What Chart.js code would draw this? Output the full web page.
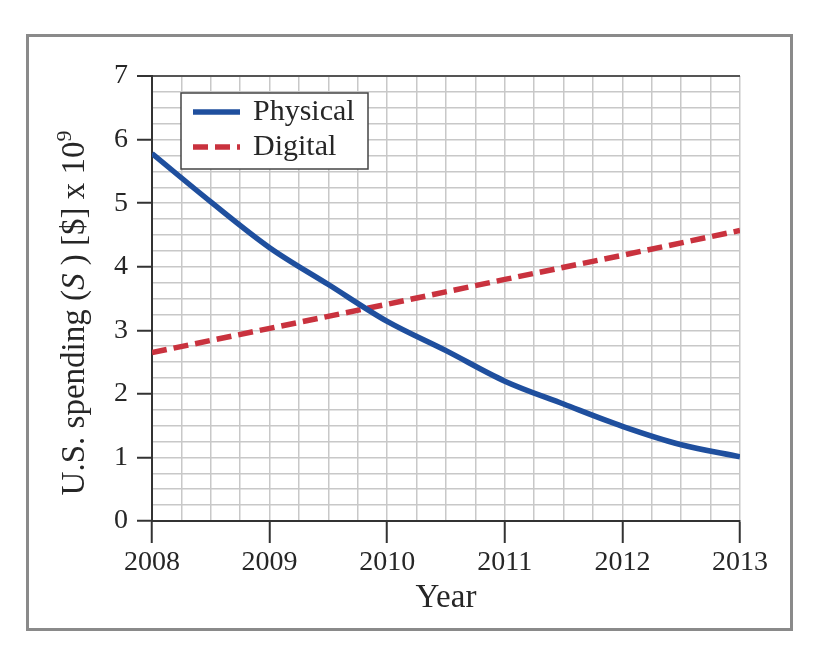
<!DOCTYPE html>
<html>
<head>
<meta charset="utf-8">
<script src="https://cdn.jsdelivr.net/npm/chart.js@4"></script>
<style>
  html, body { margin: 0; padding: 0; background: #fff; }
  #wrap { position: relative; width: 824px; height: 660px; }
  #frame { position: absolute; left: 26px; top: 34px; width: 761px; height: 591px; border: 3px solid #8a8a8a; pointer-events: none; }
  canvas { position: absolute; left: 0; top: 0; }
</style>
</head>
<body>
<div id="wrap">
  <canvas id="chart" width="824" height="660"></canvas>
  <div id="frame"></div>
</div>
<script>
// values (spending in billions of $)
const physicalYears = [2008, 2008.5, 2009, 2009.5, 2010, 2010.5, 2011, 2011.5, 2012, 2012.5, 2013];
const physical = [5.78, 5.02, 4.3, 3.72, 3.14, 2.68, 2.2, 1.84, 1.49, 1.2, 1.01];
const digitalYears = [2008, 2009, 2010, 2011, 2012, 2013];
const digital = [2.65, 3.03, 3.41, 3.8, 4.18, 4.57];
const seriesNames = ['Physical', 'Digital'];
const yearTicks = [2008, 2009, 2010, 2011, 2012, 2013];
const spendTicks = [0, 1, 2, 3, 4, 5, 6, 7];

const FONT = "'Liberation Serif', 'Times New Roman', serif";
const BLUE = '#1f4f9e';
const RED = '#c9323e';
const TEXT = '#262626';

const isMajor = (v, list) => list.includes(Math.round(v * 100) / 100);

// boxed legend in the upper left of the plot
const legendBox = {
  id: 'legendBox',
  afterDraw(chart) {
    const { ctx, chartArea } = chart;
    const x = chartArea.left + 29, y = chartArea.top + 17, w = 187, h = 76;
    ctx.save();
    ctx.fillStyle = '#fff';
    ctx.fillRect(x, y, w, h);
    ctx.strokeStyle = '#444';
    ctx.lineWidth = 1.5;
    ctx.strokeRect(x, y, w, h);
    chart.data.datasets.forEach((ds, i) => {
      const cy = y + 19 + i * 35;
      ctx.beginPath();
      ctx.setLineDash(ds.borderDash || []);
      ctx.strokeStyle = ds.borderColor;
      ctx.lineWidth = ds.borderWidth;
      ctx.moveTo(x + 12, cy);
      ctx.lineTo(x + 59, cy);
      ctx.stroke();
      ctx.setLineDash([]);
      ctx.fillStyle = TEXT;
      ctx.font = '30px ' + FONT;
      ctx.textBaseline = 'middle';
      ctx.fillText(ds.label, x + 72, cy);
    });
    ctx.restore();
  }
};

// y title with italic S and superscript exponent
const yTitle = {
  id: 'yTitle',
  afterDraw(chart) {
    const { ctx } = chart;
    const parts = [
      { t: 'U.S. spending (', f: '33px ' + FONT },
      { t: 'S', f: 'italic 33px ' + FONT },
      { t: ' ) [$] x 10', f: '33px ' + FONT },
      { t: '9', f: '22px ' + FONT, up: 13 }
    ];
    ctx.save();
    let total = 0;
    parts.forEach(p => { ctx.font = p.f; p.w = ctx.measureText(p.t).width; total += p.w; });
    ctx.translate(84, 313);
    ctx.rotate(-Math.PI / 2);
    ctx.fillStyle = TEXT;
    ctx.textBaseline = 'alphabetic';
    let x = -total / 2;
    parts.forEach(p => {
      ctx.font = p.f;
      ctx.fillText(p.t, x, -(p.up || 0));
      x += p.w;
    });
    ctx.restore();
  }
};

const ctx = document.getElementById('chart').getContext('2d');
new Chart(ctx, {
  type: 'line',
  data: {
    datasets: [{
      label: seriesNames[0],
      data: physicalYears.map((x, i) => ({ x, y: physical[i] })),
      borderColor: BLUE,
      borderWidth: 5.5,
      pointRadius: 0,
      cubicInterpolationMode: 'monotone',
      fill: false
    }, {
      label: seriesNames[1],
      data: digitalYears.map((x, i) => ({ x, y: digital[i] })),
      borderColor: RED,
      borderWidth: 5.5,
      borderDash: [15, 7],
      pointRadius: 0,
      tension: 0,
      fill: false
    }]
  },
  options: {
    responsive: false,
    animation: false,
    layout: { padding: { left: 0, top: 76, right: 84, bottom: 38 } },
    plugins: {
      legend: { display: false },
      tooltip: { enabled: false }
    },
    scales: {
      x: {
        type: 'linear',
        min: yearTicks[0],
        max: yearTicks[yearTicks.length - 1],
        afterFit: s => { s.height = 101; },
        ticks: {
          stepSize: 0.25,
          maxTicksLimit: 100,
          autoSkip: false,
          maxRotation: 0,
          padding: 3,
          color: TEXT,
          font: { family: FONT, size: 28 },
          callback: v => isMajor(v, yearTicks) ? String(Math.round(v)) : ''
        },
        grid: {
          color: '#c8c8c8',
          lineWidth: 1.5,
          tickLength: 22,
          tickWidth: 2,
          tickColor: c => isMajor(c.tick.value, yearTicks) ? '#333' : 'rgba(0,0,0,0)'
        },
        border: { color: '#333', width: 2 },
        title: { display: true, text: 'Year', color: TEXT, font: { family: FONT, size: 33 } }
      },
      y: {
        min: spendTicks[0],
        max: spendTicks[spendTicks.length - 1],
        afterFit: s => { s.width = 152; },
        ticks: {
          stepSize: 0.25,
          maxTicksLimit: 100,
          autoSkip: false,
          padding: 9,
          color: TEXT,
          font: { family: FONT, size: 28 },
          callback: v => isMajor(v, spendTicks) ? String(Math.round(v)) : ''
        },
        grid: {
          color: c => c.tick.value === 7 ? '#555' : '#c8c8c8',
          lineWidth: c => c.tick.value === 7 ? 2 : 1.5,
          tickLength: 15,
          tickWidth: 2,
          tickColor: c => isMajor(c.tick.value, spendTicks) ? '#333' : 'rgba(0,0,0,0)'
        },
        border: { color: '#333', width: 2 }
      }
    }
  },
  plugins: [legendBox, yTitle]
});
</script>
</body>
</html>
